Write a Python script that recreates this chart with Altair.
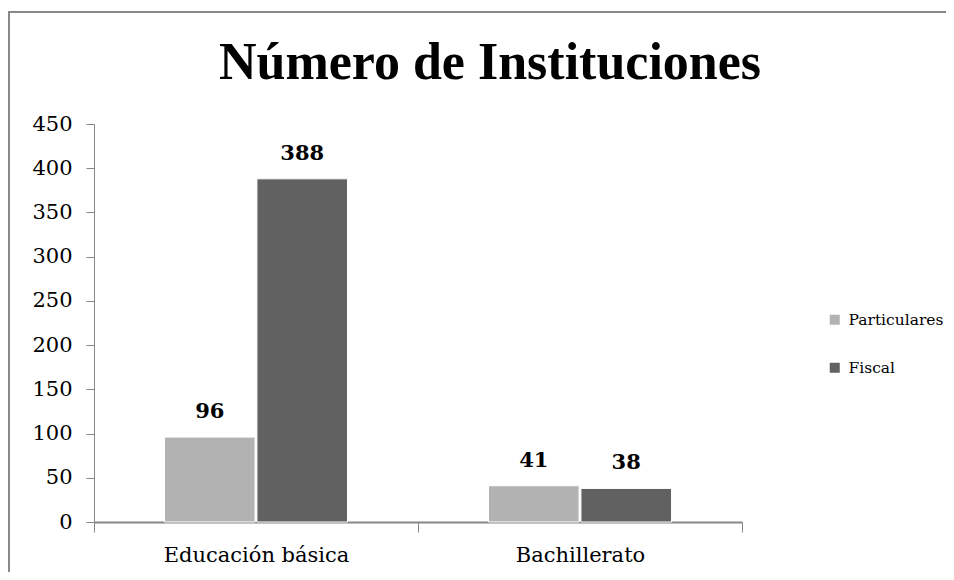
import altair as alt
import pandas as pd

title_text = "Número de Instituciones"
categories = ["Educación básica", "Bachillerato"]
series = ["Particulares", "Fiscal"]
particulares = [96, 41]
fiscal = [388, 38]
y_ticks = [0, 50, 100, 150, 200, 250, 300, 350, 400, 450]
colors = ["#b2b2b2", "#616161"]

rows = []
for i, c in enumerate(categories):
    rows.append({"Nivel": c, "Tipo": series[0], "Valor": particulares[i]})
    rows.append({"Nivel": c, "Tipo": series[1], "Valor": fiscal[i]})
df = pd.DataFrame(rows)

SERIF = "DejaVu Serif"
AX = "#868686"

base = alt.Chart(df).encode(
    x=alt.X(
        "Nivel:N",
        sort=categories,
        scale=alt.Scale(paddingInner=0, paddingOuter=0),
        axis=alt.Axis(
            title=None, labelAngle=0, tickBand="extent", tickSize=10,
            labelPadding=12, labelFont=SERIF, labelFontSize=21, labelColor="black",
            labelLimit=400, domainColor=AX, tickColor=AX, domainWidth=2,
        ),
    ),
    xOffset=alt.XOffset(
        "Tipo:N", sort=series, scale=alt.Scale(paddingInner=0.02, paddingOuter=0.763)
    ),
    y=alt.Y(
        "Valor:Q",
        scale=alt.Scale(domain=[0, 450]),
        axis=alt.Axis(
            title=None, values=y_ticks, grid=False, tickSize=8, labelPadding=14,
            labelFont=SERIF, labelFontSize=21, labelColor="black",
            domainColor=AX, tickColor=AX,
        ),
    ),
)

bars = base.mark_bar(stroke="white", strokeWidth=1).encode(
    color=alt.Color(
        "Tipo:N",
        sort=series,
        scale=alt.Scale(domain=series, range=colors),
        legend=alt.Legend(
            title=None, orient="none", legendX=733, legendY=188,
            symbolType="square", symbolSize=100, symbolStrokeWidth=0,
            labelFont=SERIF, labelFontSize=15.5, labelColor="black",
            rowPadding=31, labelOffset=6, labelLimit=200,
        ),
    )
)

labels = base.mark_text(
    dy=-19, baseline="alphabetic", font=SERIF, fontWeight="bold", fontSize=21, color="black"
).encode(text="Valor:Q")

frame = alt.Chart(pd.DataFrame({"f": [0]})).mark_rect(
    fillOpacity=0, stroke="#888888", strokeWidth=2
).encode(x=alt.value(-85), x2=alt.value(1000), y=alt.value(-112), y2=alt.value(700))

title = alt.Chart(pd.DataFrame({"t": [title_text]})).mark_text(
    font="Liberation Serif", fontSize=52, fontWeight="bold", color="black",
    align="center", baseline="alphabetic",
).encode(text="t:N", x=alt.value(396), y=alt.value(-45))

chart = alt.layer(frame, title, bars, labels).properties(
    width=648,
    height=398,
    autosize=alt.AutoSizeParams(type="none"),
    padding={"left": 86, "top": 116, "right": 204, "bottom": 50},
).configure_view(stroke=None)

chart.save("out.html", embed_options={"renderer": "svg", "actions": False})
